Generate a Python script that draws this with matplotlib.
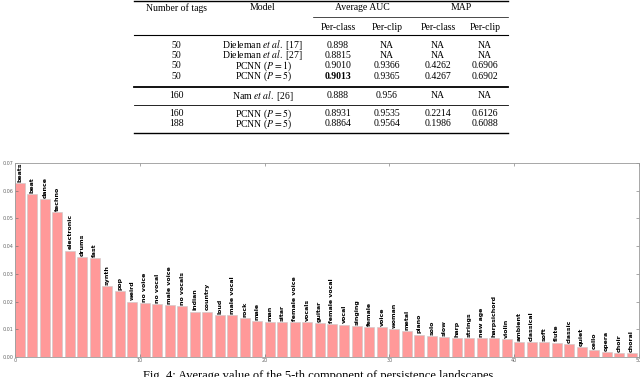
import matplotlib
matplotlib.use('Agg')
import matplotlib.pyplot as plt
from matplotlib.lines import Line2D
import numpy as np

# table data
col_tags = ['50', '50', '50', '50', '160', '160', '188']
col_model = [r'Dieleman $\mathit{et\ al.}$ [17]', r'Dieleman $\mathit{et\ al.}$ [27]',
             r'PCNN ($P=1$)', r'PCNN ($P=5$)', r'Nam $\mathit{et\ al.}$ [26]',
             r'PCNN ($P=5$)', r'PCNN ($P=5$)']
auc_class = ['0.898', '0.8815', '0.9010', '0.9013', '0.888', '0.8931', '0.8864']
auc_clip = ['NA', 'NA', '0.9366', '0.9365', '0.956', '0.9535', '0.9564']
map_class = ['NA', 'NA', '0.4262', '0.4267', 'NA', '0.2214', '0.1986']
map_clip = ['NA', 'NA', '0.6906', '0.6902', 'NA', '0.6126', '0.6088']

# bar chart data
tags = ['beats', 'beat', 'dance', 'techno', 'electronic', 'drums', 'fast', 'synth', 'pop',
        'weird', 'no voice', 'no vocal', 'male voice', 'no vocals', 'indian', 'country',
        'loud', 'male vocal', 'rock', 'male', 'man', 'sitar', 'female voice', 'vocals',
        'guitar', 'female vocal', 'vocal', 'singing', 'female', 'voice', 'woman', 'metal',
        'piano', 'solo', 'slow', 'harp', 'strings', 'new age', 'harpsichord', 'violin',
        'ambient', 'classical', 'soft', 'flute', 'classic', 'quiet', 'cello', 'opera',
        'choir', 'choral']
values = [0.0629, 0.0588, 0.0569, 0.0524, 0.0384, 0.0360, 0.0357, 0.0255, 0.0239,
          0.0200, 0.0195, 0.0190, 0.0189, 0.0184, 0.0164, 0.0164,
          0.0151, 0.0151, 0.0141, 0.0131, 0.0127, 0.0125, 0.0125, 0.0125,
          0.0123, 0.0120, 0.0117, 0.0112, 0.0108, 0.0108, 0.0100, 0.0095,
          0.0081, 0.0076, 0.0072, 0.0069, 0.0069, 0.0067, 0.0067, 0.0064,
          0.0054, 0.0053, 0.0053, 0.0052, 0.0048, 0.0035, 0.0024, 0.0018,
          0.0014, 0.0013]

W, H = 640, 377
plt.rcParams['mathtext.fontset'] = 'stix'
serif = 'Liberation Serif'

fig = plt.figure(figsize=(6.4, 3.77), dpi=100)


def fx(x):
    return x / W


def fy(y):
    return 1 - y / H


def rule(y, x0=134, x1=508, lw=0.8):
    fig.add_artist(Line2D([fx(x0), fx(x1)], [fy(y), fy(y)], transform=fig.transFigure,
                          color='black', lw=lw))


def cell(x, y, s, **kw):
    fig.text(fx(x), fy(y), s, ha='center', va='center', family=serif, fontsize=7, **kw)


#1. table
rule(1, lw=1.0)
cell(176, 8, 'Number of tags')
cell(263, 8, 'Model')
cell(362, 8, 'Average AUC')
cell(461, 8, 'MAP')
rule(17, 313, 508, lw=0.5)
cell(338, 27, 'Per-class')
cell(387, 27, 'Per-clip')
cell(438, 27, 'Per-class')
cell(485, 27, 'Per-clip')
rule(35, lw=0.8)

row_y = [45, 55.5, 66, 76.5, 96, 114, 124]
for i in range(len(col_tags)):
    y = row_y[i]
    cell(176, y, col_tags[i])
    cell(263, y, col_model[i])
    cell(338, y, auc_class[i], fontweight='bold' if auc_class[i] == '0.9013' else 'normal')
    cell(387, y, auc_clip[i])
    cell(438, y, map_class[i])
    cell(485, y, map_clip[i])
rule(86.5, lw=1.3)
rule(105, lw=0.6)
rule(133, lw=1.0)

#2. bar chart
ax = fig.add_axes([fx(15), fy(357), fx(639) - fx(15), (357 - 163) / H])
x = np.arange(len(values))
ax.bar(x, values, width=0.8, align='edge', color='#ff9999', edgecolor='#c8c8c8', linewidth=0.4)
for i in range(len(values)):
    ax.text(i + 0.4, values[i] + 0.0004, tags[i], rotation=90, ha='center', va='bottom',
            fontsize=4.5, fontweight='bold', clip_on=False)
ax.set_xlim(0, 50)
ax.set_ylim(0, 0.07)
ax.set_xticks([0, 10, 20, 30, 40, 50])
ax.set_yticks(np.arange(0, 0.071, 0.01))
ax.set_yticklabels(['%.2f' % v for v in np.arange(0, 0.071, 0.01)])
ax.tick_params(direction='in', top=True, right=True, length=2, width=0.4,
               labelsize=3.5, pad=1, colors='#666666')
for s in ['top', 'bottom', 'right', 'left']:
    ax.spines[s].set_color('#999999')
    ax.spines[s].set_linewidth(0.6)
ax.set_ylabel('Average persistence of 5th component', fontsize=3, color='#666666', labelpad=2)

#3. caption, cut off at the bottom edge
fig.text(fx(318), fy(369.5), 'Fig. 4: Average value of the 5-th component of persistence landscapes',
         ha='center', va='top', family=serif, fontsize=9)

plt.savefig('out.png', dpi=100)
plt.close()
